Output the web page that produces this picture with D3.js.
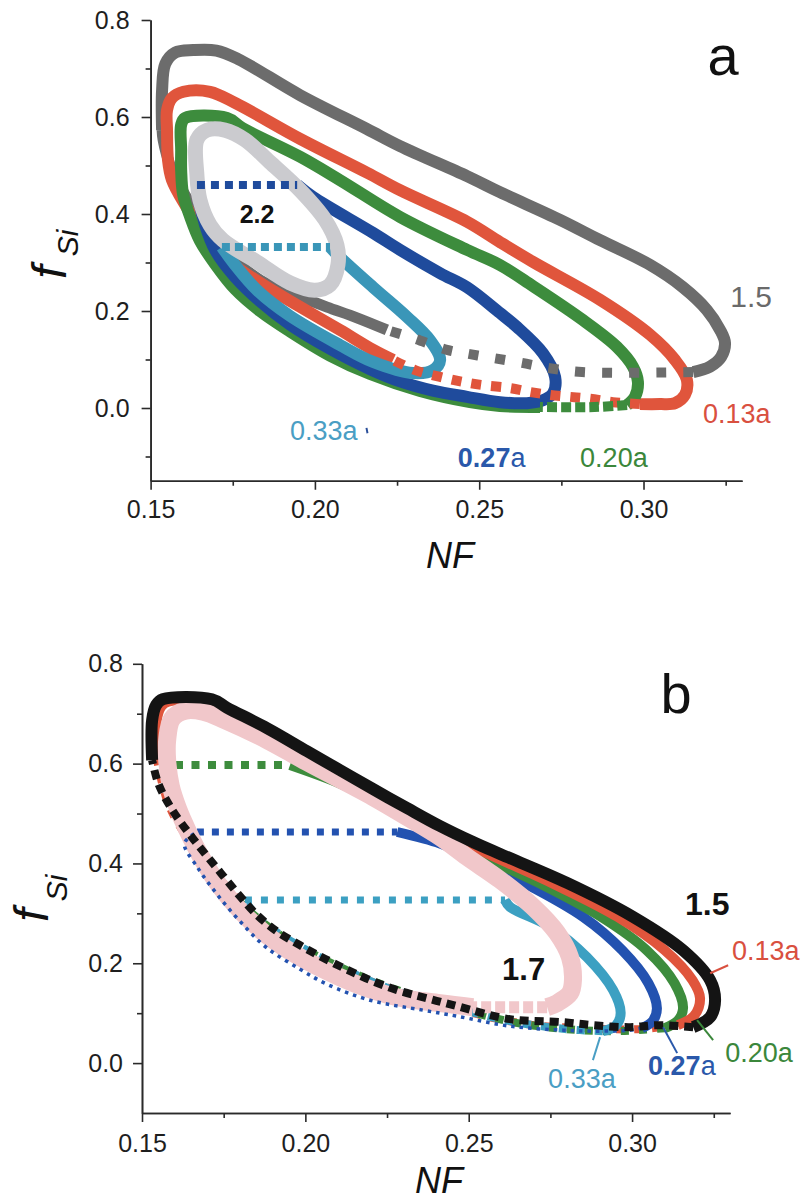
<!DOCTYPE html>
<html><head><meta charset="utf-8">
<script src="https://cdn.jsdelivr.net/npm/d3@7"></script>
<style>
body{margin:0;background:#fff;}
svg{display:block;}
text{font-family:"Liberation Sans",Arial,sans-serif;}
</style></head><body>
<svg id="c" width="810" height="1204"></svg>
<script>
// ---------- axis ticks ----------
const xMajor = [0.15, 0.20, 0.25, 0.30];
const xMinor = [0.175, 0.225, 0.275, 0.325];
const yMajor = [0.0, 0.2, 0.4, 0.6, 0.8];
const yMinorA = [-0.1, 0.1, 0.3, 0.5, 0.7];
const yMinorB = [0.1, 0.3, 0.5, 0.7];

// ---------- panel a : [NF, fSi] ----------
const aGray = [[0.1535,0.573],[0.1535,0.656],[0.1545,0.710],[0.1575,0.733],[0.1630,0.738],[0.1700,0.737],[0.1765,0.720],[0.1955,0.645],[0.2159,0.575],[0.2259,0.540],[0.2463,0.478],[0.2563,0.445],[0.2746,0.388],[0.2868,0.346],[0.3020,0.295],[0.3120,0.249],[0.3193,0.202],[0.3233,0.161],[0.3248,0.134],[0.3236,0.105],[0.3202,0.085],[0.3151,0.074]];
const aGrayDots = [[0.3151,0.074],[0.2813,0.074],[0.2715,0.082],[0.2630,0.093],[0.2542,0.103],[0.2472,0.111],[0.2402,0.120],[0.2299,0.144],[0.2219,0.161]];
const aGrayLow = [[0.2219,0.161],[0.2128,0.186],[0.2037,0.208],[0.1955,0.229],[0.1924,0.237],[0.1833,0.264],[0.1742,0.315],[0.1666,0.377],[0.1605,0.439],[0.1559,0.501],[0.1538,0.553],[0.1535,0.573]];
const aRed = [[0.2238,0.099],[0.2177,0.120],[0.2076,0.161],[0.1946,0.212],[0.1833,0.258],[0.1742,0.301],[0.1666,0.357],[0.1605,0.419],[0.1565,0.470],[0.1553,0.511],[0.1550,0.573],[0.1550,0.614],[0.1565,0.639],[0.1600,0.652],[0.1681,0.652],[0.1760,0.628],[0.1955,0.555],[0.2159,0.485],[0.2259,0.449],[0.2463,0.384],[0.2563,0.342],[0.2664,0.301],[0.2868,0.223],[0.3020,0.151],[0.3096,0.099],[0.3132,0.058],[0.3126,0.027],[0.3096,0.010],[0.3050,0.008],[0.2989,0.008]];
const aRedDots = [[0.2989,0.008],[0.2907,0.012],[0.2837,0.019],[0.2776,0.023],[0.2715,0.027],[0.2655,0.033],[0.2594,0.041],[0.2512,0.047],[0.2448,0.054],[0.2381,0.064],[0.2305,0.078],[0.2238,0.099]];
const aGreen = [[0.2685,0.002],[0.2563,0.004],[0.2472,0.012],[0.2320,0.035],[0.2168,0.070],[0.2046,0.108],[0.1924,0.158],[0.1833,0.200],[0.1757,0.245],[0.1696,0.297],[0.1650,0.345],[0.1620,0.395],[0.1599,0.440],[0.1593,0.491],[0.1593,0.532],[0.1593,0.584],[0.1605,0.598],[0.1733,0.598],[0.1780,0.577],[0.1955,0.518],[0.2076,0.470],[0.2259,0.394],[0.2463,0.326],[0.2563,0.295],[0.2664,0.251],[0.2816,0.181],[0.2919,0.126],[0.2968,0.085],[0.2983,0.054],[0.2974,0.023],[0.2950,0.006]];
const aGreenDots = [[0.2950,0.006],[0.2850,0.002],[0.2685,0.002]];
const aBlueTie = [[0.1641,0.460],[0.1946,0.460]];
const aBlue = [[0.1946,0.460],[0.1994,0.435],[0.2177,0.361],[0.2259,0.326],[0.2381,0.278],[0.2463,0.249],[0.2563,0.196],[0.2615,0.167],[0.2694,0.113],[0.2731,0.064],[0.2725,0.031],[0.2694,0.016],[0.2645,0.010],[0.2563,0.012],[0.2463,0.023],[0.2359,0.036],[0.2259,0.055],[0.2168,0.080],[0.2046,0.122],[0.1924,0.172],[0.1833,0.220],[0.1757,0.270],[0.1696,0.326],[0.1666,0.377],[0.1647,0.429],[0.1641,0.460]];
const aTealTie = [[0.1717,0.332],[0.2046,0.332]];
const aTeal = [[0.2046,0.332],[0.2076,0.311],[0.2177,0.249],[0.2280,0.188],[0.2350,0.140],[0.2381,0.099],[0.2359,0.078],[0.2299,0.072],[0.2177,0.095],[0.2076,0.130],[0.1924,0.190],[0.1824,0.243],[0.1757,0.295],[0.1717,0.332]];
const aLight = [[0.1641,0.553],[0.1641,0.480],[0.1650,0.429],[0.1681,0.377],[0.1720,0.346],[0.1824,0.301],[0.1924,0.258],[0.2000,0.243],[0.2046,0.254],[0.2070,0.295],[0.2067,0.336],[0.2031,0.388],[0.1955,0.449],[0.1863,0.507],[0.1787,0.553],[0.1726,0.573],[0.1672,0.573]];

// ---------- panel b ----------
const bBlack = [[0.1531,0.607],[0.1531,0.687],[0.1543,0.717],[0.1564,0.729],[0.1714,0.729],[0.1760,0.712],[0.1883,0.671],[0.2005,0.625],[0.2106,0.587],[0.2207,0.549],[0.2311,0.511],[0.2412,0.475],[0.2513,0.443],[0.2596,0.419],[0.2801,0.361],[0.3003,0.293],[0.3156,0.226],[0.3239,0.166],[0.3254,0.126],[0.3239,0.092],[0.3187,0.072]];
const bBlackDots = [[0.3187,0.072],[0.3076,0.076],[0.2994,0.072],[0.2880,0.076],[0.2789,0.082],[0.2626,0.088],[0.2464,0.114],[0.2372,0.130],[0.2281,0.146],[0.2207,0.164],[0.2158,0.178],[0.2106,0.194],[0.2045,0.214],[0.1984,0.236],[0.1913,0.264],[0.1850,0.298],[0.1790,0.342],[0.1720,0.398],[0.1650,0.455],[0.1590,0.510],[0.1550,0.560],[0.1531,0.607]];
const bRed = [[0.1546,0.607],[0.1546,0.690],[0.1560,0.715],[0.1580,0.724],[0.1714,0.724],[0.1765,0.706],[0.1883,0.665],[0.2005,0.618],[0.2207,0.541],[0.2412,0.467],[0.2560,0.419],[0.2760,0.359],[0.2955,0.293],[0.3100,0.226],[0.3185,0.166],[0.3208,0.130],[0.3190,0.095],[0.3140,0.076]];
const bRedDots = [[0.3140,0.076],[0.3020,0.068],[0.2850,0.070],[0.2700,0.076],[0.2550,0.094],[0.2400,0.122],[0.2250,0.152],[0.2100,0.190],[0.1960,0.238],[0.1850,0.290],[0.1750,0.360],[0.1650,0.440],[0.1580,0.520],[0.1546,0.607]];
const bGreenTie = [[0.1601,0.597],[0.1953,0.597]];
const bGreen = [[0.1953,0.597],[0.2106,0.560],[0.2311,0.497],[0.2412,0.462],[0.2520,0.421],[0.2720,0.359],[0.2905,0.293],[0.3045,0.226],[0.3130,0.160],[0.3156,0.110],[0.3140,0.085],[0.3100,0.070]];
const bGreenDots = [[0.3100,0.070],[0.2950,0.064],[0.2800,0.068],[0.2650,0.080],[0.2500,0.104],[0.2350,0.132],[0.2200,0.166],[0.2050,0.210],[0.1920,0.258],[0.1820,0.310],[0.1720,0.380],[0.1640,0.460],[0.1590,0.540],[0.1601,0.597]];
const bBlueTie = [[0.1668,0.463],[0.2281,0.463]];
const bBlue = [[0.2281,0.463],[0.2412,0.440],[0.2480,0.421],[0.2670,0.361],[0.2850,0.293],[0.2970,0.226],[0.3050,0.160],[0.3076,0.110],[0.3064,0.085],[0.3030,0.070]];
const bBlueDots = [[0.3030,0.070],[0.2994,0.066],[0.2880,0.064],[0.2789,0.066],[0.2626,0.074],[0.2464,0.094],[0.2360,0.106],[0.2198,0.126],[0.2066,0.158],[0.1984,0.188],[0.1880,0.232],[0.1800,0.284],[0.1730,0.338],[0.1670,0.392],[0.1630,0.440],[0.1668,0.463]];
const bTealTie = [[0.1815,0.327],[0.2611,0.327]];
const bTeal = [[0.2611,0.327],[0.2626,0.313],[0.2749,0.273],[0.2862,0.212],[0.2942,0.146],[0.2965,0.100],[0.2950,0.075],[0.2910,0.064]];
const bTealDots = [[0.2910,0.064],[0.2800,0.068],[0.2626,0.084],[0.2464,0.110],[0.2281,0.144],[0.2158,0.176],[0.2045,0.212],[0.1913,0.262],[0.1850,0.295],[0.1815,0.327]];
const bPink = [[0.2513,0.112],[0.2412,0.120],[0.2281,0.132],[0.2189,0.150],[0.2106,0.172],[0.1984,0.212],[0.1883,0.256],[0.1800,0.306],[0.1730,0.362],[0.1680,0.414],[0.1640,0.465],[0.1610,0.510],[0.1588,0.555],[0.1577,0.607],[0.1577,0.647],[0.1592,0.690],[0.1632,0.706],[0.1687,0.704],[0.1754,0.687],[0.1883,0.647],[0.2005,0.603],[0.2207,0.533],[0.2311,0.493],[0.2412,0.453],[0.2495,0.413],[0.2596,0.367],[0.2697,0.313],[0.2770,0.261],[0.2810,0.212],[0.2819,0.166],[0.2810,0.140],[0.2770,0.120],[0.2740,0.112]];
const bPinkDots = [[0.2740,0.112],[0.2513,0.112]];

// ---------- colours ----------
const C = {gray:"#6c6c6c", red:"#e0553c", green:"#3d8c3d", blue:"#1f4b9c", teal:"#3a96b8",
           light:"#cbcbcf", black:"#141414", pink:"#f1c7ca", bblue:"#2352b0", bteal:"#3ca0c2"};

const svg = d3.select("#c");
svg.append("rect").attr("width",810).attr("height",1204).attr("fill","#fff");

function makePanel(o){
  const g = svg.append("g");
  const x = d3.scaleLinear().domain([0.15,0.33]).range(o.xr);
  const y = d3.scaleLinear().domain(o.yd).range(o.yr);
  const x0 = o.xr[0], y0 = o.yr[0];
  const st = sel => { sel.selectAll("path,line").attr("stroke","#2a2a2a").attr("stroke-width",1.6);
                      sel.selectAll("text").attr("font-size",25).attr("fill","#1e1e1e")
                         .attr("font-family","Liberation Sans, Arial, sans-serif"); };
  g.append("g").attr("transform",`translate(0,${y0})`)
    .call(d3.axisBottom(x).tickValues(xMinor).tickFormat("").tickSize(5).tickSizeOuter(0)).call(st);
  g.append("g").attr("transform",`translate(0,${y0})`)
    .call(d3.axisBottom(x).tickValues(xMajor).tickFormat(d3.format(".2f")).tickSize(9).tickSizeOuter(0).tickPadding(o.xpad)).call(st);
  g.append("g").attr("transform",`translate(${x0},0)`)
    .call(d3.axisLeft(y).tickValues(o.yMinor).tickFormat("").tickSize(5).tickSizeOuter(0)).call(st);
  g.append("g").attr("transform",`translate(${x0},0)`)
    .call(d3.axisLeft(y).tickValues(yMajor).tickFormat(d3.format(".1f")).tickSize(9).tickSizeOuter(0).tickPadding(o.ypad)).call(st);
  const plot = g.append("g");
  return {g, plot, x, y};
}

function band(p, data, color, w, opt){
  opt = opt || {};
  const cv = opt.closed ? d3.curveCatmullRomClosed.alpha(0.5)
           : (opt.straight ? d3.curveLinear : d3.curveCatmullRom.alpha(0.5));
  const line = d3.line().x(d=>p.x(d[0])).y(d=>p.y(d[1])).curve(cv);
  p.plot.append("path").attr("d", line(data)).attr("fill","none")
    .attr("stroke", color).attr("stroke-width", w)
    .attr("stroke-linejoin","round").attr("stroke-linecap","butt")
    .attr("stroke-dasharray", opt.dash || null);
}

function label(p, xv, yv, parts, size, color, anchor){
  const t = p.g.append("text").attr("x", p.x(xv)).attr("y", p.y(yv))
    .attr("font-size", size).attr("fill", color).attr("text-anchor", anchor || "start");
  parts.forEach(pt => t.append("tspan").text(pt[0]).attr("font-weight", pt[1] ? "bold" : "normal"));
}
function pointer(p, a, b, color){
  p.g.append("line").attr("x1",p.x(a[0])).attr("y1",p.y(a[1])).attr("x2",p.x(b[0])).attr("y2",p.y(b[1]))
    .attr("stroke",color).attr("stroke-width",2);
}
function ylabel(fx, fy, sx, sy){
  svg.append("text").attr("transform",`translate(${fx},${fy}) rotate(-90)`).attr("text-anchor","middle")
    .attr("font-style","italic").attr("font-size",48).attr("fill","#111").text("f");
  svg.append("text").attr("transform",`translate(${sx},${sy}) rotate(-90)`).attr("text-anchor","middle")
    .attr("font-style","italic").attr("font-size",30).attr("fill","#111").text("Si");
}

// ================= panel a =================
const A = makePanel({xr:[150.6,742.1], yd:[-0.15,0.8], yr:[480.75,20], yMinor:yMinorA, xpad:10.5, ypad:12});
band(A, aGray, C.gray, 12);
band(A, aGrayLow, C.gray, 11);
band(A, aRed, C.red, 12);
band(A, aGreen, C.green, 12);
band(A, aBlue, C.blue, 12);
band(A, aTeal, C.teal, 12);
band(A, aLight, C.light, 15, {closed:true});
band(A, aGrayDots, C.gray, 10, {dash:"10 17"});
band(A, aRedDots, C.red, 10, {dash:"10 10"});
band(A, aGreenDots, C.green, 10, {dash:"10 4"});
band(A, aBlueTie, C.blue, 8, {dash:"8 6", straight:true});
band(A, aTealTie, C.teal, 8, {dash:"8 5", straight:true});

label(A, 0.1824, 0.381, [["2.2",1]], 25, "#111", "middle");
label(A, 0.3264, 0.208, [["1.5",0]], 30, "#6a6a6a");
label(A, 0.3181, -0.031, [["0.13a",0]], 27, "#d9503f");
label(A, 0.2807, -0.122, [["0.20",0],["a",0]], 27, "#3b873b");
label(A, 0.2435, -0.122, [["0.27",1],["a",0]], 27, "#2a58aa");
label(A, 0.1924, -0.066, [["0.33a",0]], 27, "#4a9ec4");
pointer(A, [0.2157,-0.041], [0.2160,-0.052], "#2a4f9a");
label(A, 0.3242, 0.687, [["a",0]], 56, "#111", "middle");
A.g.append("text").attr("x",450).attr("y",568).attr("text-anchor","middle").attr("font-style","italic")
  .attr("font-size",36).attr("fill","#111").text("NF");
ylabel(66, 272, 78, 243);

// ================= panel b =================
const B = makePanel({xr:[142,730.1], yd:[-0.1,0.8], yr:[1113,663.8], yMinor:yMinorB, xpad:12, ypad:10});
band(B, bRedDots, C.red, 8, {dash:"8 10"});
band(B, bGreenDots, C.green, 8, {dash:"8 10"});
band(B, bTealDots, C.bteal, 8, {dash:"8 10"});
band(B, bGreenTie, C.green, 8, {dash:"8 8.5", straight:true});
band(B, bBlueTie, C.bblue, 7, {dash:"7 8", straight:true});
band(B, bTealTie, C.bteal, 7, {dash:"7 9", straight:true});
band(B, bTeal, C.bteal, 10);
band(B, bBlue, C.bblue, 10);
band(B, bGreen, C.green, 10);
band(B, bRed, C.red, 10);
band(B, bPink, C.pink, 18);
band(B, bPinkDots, C.pink, 12, {dash:"10 4"});
band(B, bBlueDots, C.bblue, 3.5, {dash:"3.5 5"});
band(B, bBlack, C.black, 12);
band(B, bBlackDots, C.black, 8, {dash:"9 6"});

label(B, 0.3162, 0.297, [["1.5",1]], 32, "#111");
label(B, 0.2602, 0.166, [["1.7",1]], 31, "#111");
label(B, 0.3306, 0.206, [["0.13a",0]], 27, "#d9503f");
label(B, 0.3285, 0.002, [["0.20a",0]], 27, "#3b873b");
label(B, 0.3049, -0.024, [["0.27",1],["a",0]], 27, "#2a58aa");
label(B, 0.2743, -0.050, [["0.33a",0]], 27, "#4a9ec4");
pointer(B, [0.3239,0.180], [0.3294,0.196], "#d9503f");
pointer(B, [0.3199,0.086], [0.3248,0.046], "#3b873b");
pointer(B, [0.3095,0.072], [0.3138,0.020], "#2a58aa");
pointer(B, [0.2902,0.052], [0.2880,0.006], "#4a9ec4");
label(B, 0.3135, 0.701, [["b",0]], 56, "#111", "middle");
B.g.append("text").attr("x",439).attr("y",1193).attr("text-anchor","middle").attr("font-style","italic")
  .attr("font-size",36).attr("fill","#111").text("NF");
ylabel(48, 915, 67, 888);
</script>
</body></html>
